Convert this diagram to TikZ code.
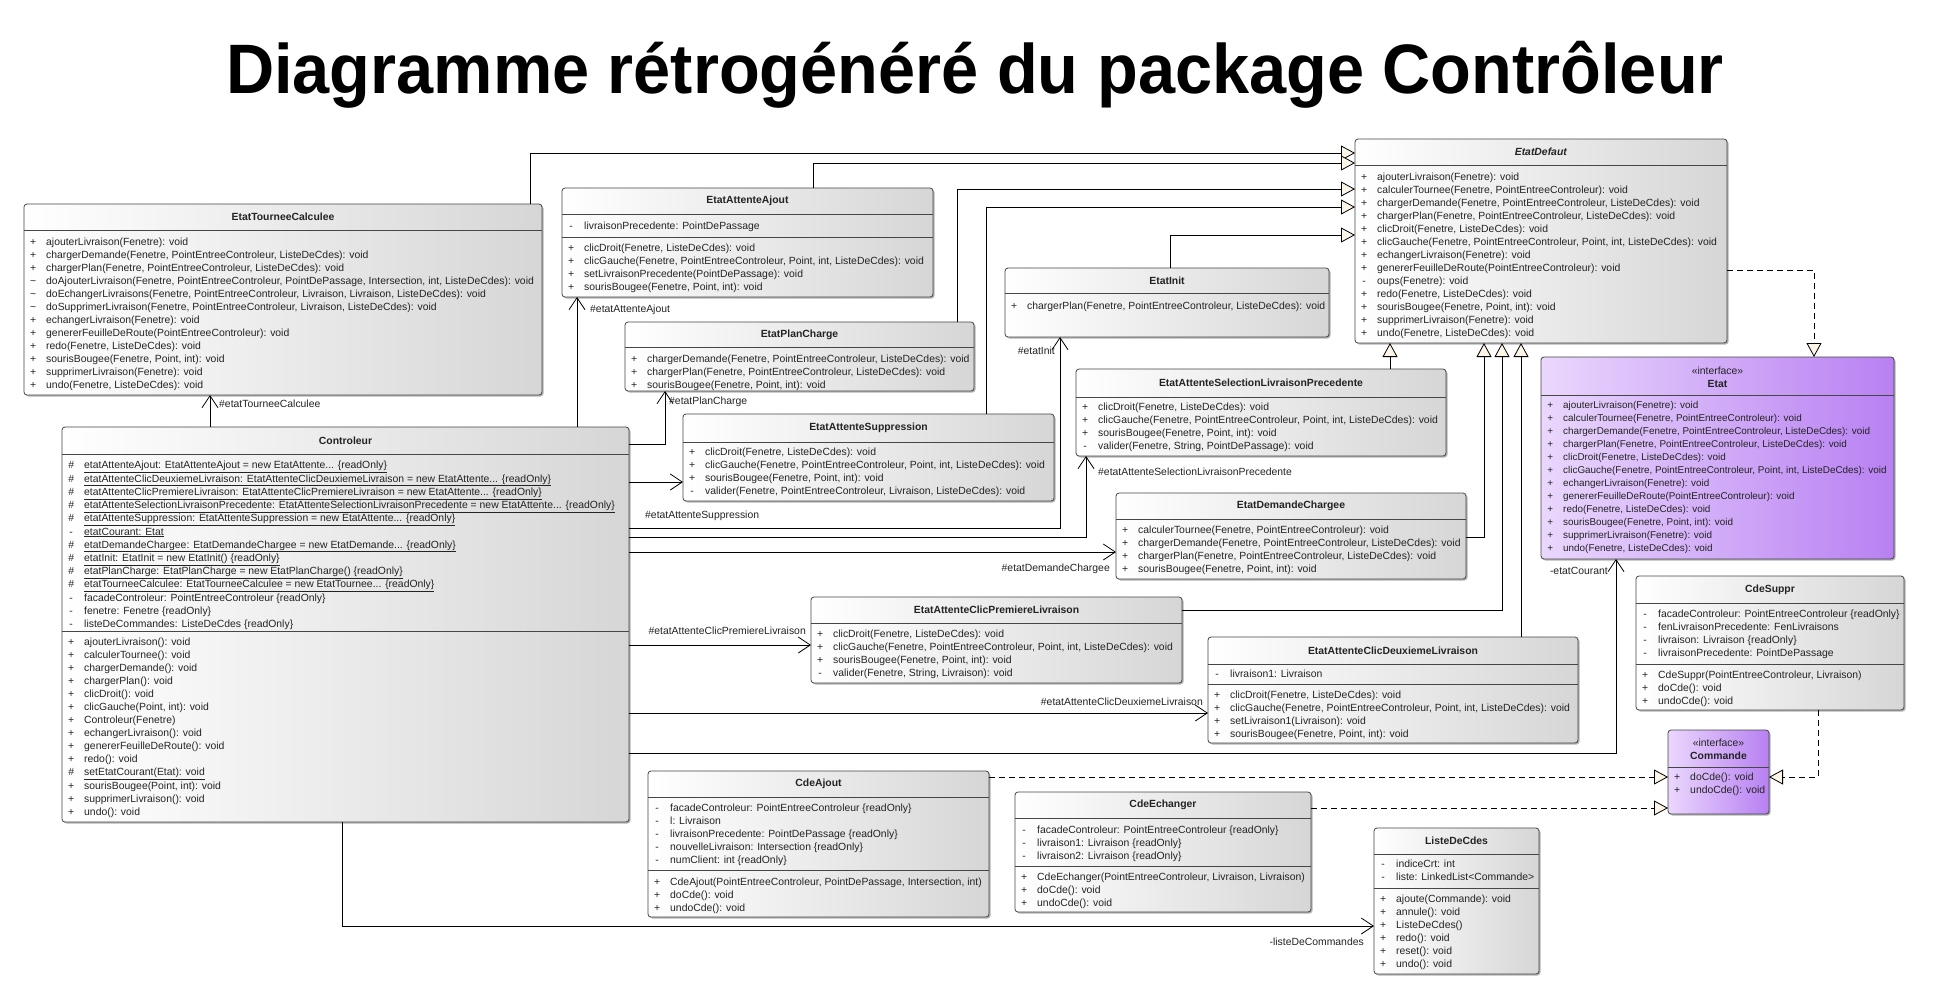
\documentclass[tikz,border=0pt]{standalone}
\usepackage{fontspec}
\setmainfont{Liberation Sans}
\usepackage{graphicx}
\usetikzlibrary{arrows.meta,calc,shadows}

\definecolor{boxgray}{RGB}{214,214,214}
\definecolor{lavA}{RGB}{234,215,253}
\definecolor{lavB}{RGB}{184,128,242}
\definecolor{cream}{RGB}{251,246,232}
\definecolor{edge}{RGB}{70,70,70}
\definecolor{txt}{RGB}{35,35,35}

\newcommand\umlfont{\fontsize{10.4}{13}\selectfont}
\newcommand\umlfontsmall{\fontsize{9.9}{13}\selectfont}
\newcommand\vis[1]{\makebox[18pt][l]{\makebox[10pt][c]{#1}}}
\newcommand\vPub{\vis{+}}
\newcommand\vPriv{\vis{-}}
\newcommand\vProt{\vis{\#}}
\newcommand\vPkg{\vis{\textasciitilde}}

\tikzset{
  umlc/.style={draw=edge, line width=0.8pt, rounded corners=3pt, left color=white, right color=boxgray,
    inner sep=0pt, outer sep=0pt, drop shadow={shadow xshift=1.5pt, shadow yshift=-1.5pt, opacity=0.3, fill=black}},
  umli/.style={umlc, left color=lavA, right color=lavB},
  sepline/.style={draw=edge, line width=0.8pt},
  membstyle/.style={inner sep=0pt, font=\umlfont, text=txt},
  ctitlestyle/.style={inner sep=0pt, font=\umlfont\bfseries, text=txt, align=center},
  conn/.style={draw=black, line width=0.8pt},
  assoc/.style={conn, -{Straight Barb[length=12pt,width=16pt]}},
  gen/.style={conn, -{Triangle[length=14pt,width=15pt,fill=cream]}},
  real/.style={gen, dash pattern=on 6pt off 4pt},
  lbl/.style={inner sep=0pt, font=\umlfont, text=txt, text height=7.4pt, text depth=0pt},
}

\newcommand\umlbox[6]{\node[#6, anchor=north west, minimum width={#4-#2}, minimum height={#5-#3}] (#1) at (#2,#3) {};}
\newcommand\ctitle[3]{\node[ctitlestyle] (#1-t) at ($(#1.north)+(0,#2)$) {#3};}
\newcommand\csep[2]{\draw[sepline] ($(#1.north west)+(0,#2)$) -- ($(#1.north east)+(0,#2)$);}
\newcommand\cmembers[3]{\node[membstyle, anchor=north west] (#1-m#2) at ($(#1.north west)+(4,#2-5.5)$) {\begin{tabular}{@{}l@{}}#3\end{tabular}};}

\begin{document}
\begin{tikzpicture}[x=1pt,y=-1pt]
\fill[white] (0,0) rectangle (1939,997);
\useasboundingbox (0,0) rectangle (1939,997);

% title
\node[anchor=base, inner sep=0pt, font=\fontsize{70}{80}\selectfont\bfseries] (title) at (975,93)
  {\scalebox{0.953}[1]{Diagramme rétrogénéré du package Contrôleur}};

% ---------- EtatTourneeCalculee
\umlbox{etc}{24}{204}{542}{395}{umlc}
\ctitle{etc}{13}{EtatTourneeCalculee}
\csep{etc}{26}
\cmembers{etc}{38}{\vPub ajouterLivraison(Fenetre): void\\
\vPub chargerDemande(Fenetre, PointEntreeControleur, ListeDeCdes): void\\
\vPub chargerPlan(Fenetre, PointEntreeControleur, ListeDeCdes): void\\
\vPkg doAjouterLivraison(Fenetre, PointEntreeControleur, PointDePassage, Intersection, int, ListeDeCdes): void\\
\vPkg doEchangerLivraisons(Fenetre, PointEntreeControleur, Livraison, Livraison, ListeDeCdes): void\\
\vPkg doSupprimerLivraison(Fenetre, PointEntreeControleur, Livraison, ListeDeCdes): void\\
\vPub echangerLivraison(Fenetre): void\\
\vPub genererFeuilleDeRoute(PointEntreeControleur): void\\
\vPub redo(Fenetre, ListeDeCdes): void\\
\vPub sourisBougee(Fenetre, Point, int): void\\
\vPub supprimerLivraison(Fenetre): void\\
\vPub undo(Fenetre, ListeDeCdes): void}

% ---------- Controleur
\umlbox{ctrl}{62}{427}{629}{822}{umlc}
\ctitle{ctrl}{13.5}{Controleur}
\csep{ctrl}{27}
\cmembers{ctrl}{38}{\vProt\underline{etatAttenteAjout: EtatAttenteAjout = new EtatAttente... \{readOnly\}}\\
\vProt\underline{etatAttenteClicDeuxiemeLivraison: EtatAttenteClicDeuxiemeLivraison = new EtatAttente... \{readOnly\}}\\
\vProt\underline{etatAttenteClicPremiereLivraison: EtatAttenteClicPremiereLivraison = new EtatAttente... \{readOnly\}}\\
\vProt\underline{etatAttenteSelectionLivraisonPrecedente: EtatAttenteSelectionLivraisonPrecedente = new EtatAttente... \{readOnly\}}\\
\vProt\underline{etatAttenteSuppression: EtatAttenteSuppression = new EtatAttente... \{readOnly\}}\\
\vPriv\underline{etatCourant: Etat}\\
\vProt\underline{etatDemandeChargee: EtatDemandeChargee = new EtatDemande... \{readOnly\}}\\
\vProt\underline{etatInit: EtatInit = new EtatInit() \{readOnly\}}\\
\vProt\underline{etatPlanCharge: EtatPlanCharge = new EtatPlanCharge() \{readOnly\}}\\
\vProt\underline{etatTourneeCalculee: EtatTourneeCalculee = new EtatTournee... \{readOnly\}}\\
\vPriv facadeControleur: PointEntreeControleur \{readOnly\}\\
\vPriv fenetre: Fenetre \{readOnly\}\\
\vPriv listeDeCommandes: ListeDeCdes \{readOnly\}}
\csep{ctrl}{204}
\cmembers{ctrl}{215}{\vPub ajouterLivraison(): void\\
\vPub calculerTournee(): void\\
\vPub chargerDemande(): void\\
\vPub chargerPlan(): void\\
\vPub clicDroit(): void\\
\vPub clicGauche(Point, int): void\\
\vPub Controleur(Fenetre)\\
\vPub echangerLivraison(): void\\
\vPub genererFeuilleDeRoute(): void\\
\vPub redo(): void\\
\vProt\underline{setEtatCourant(Etat): void}\\
\vPub sourisBougee(Point, int): void\\
\vPub supprimerLivraison(): void\\
\vPub undo(): void}

% ---------- EtatAttenteAjout
\umlbox{eaa}{562}{188}{933}{297}{umlc}
\ctitle{eaa}{13}{EtatAttenteAjout}
\csep{eaa}{26}
\cmembers{eaa}{38}{\vPriv livraisonPrecedente: PointDePassage}
\csep{eaa}{49}
\cmembers{eaa}{60}{\vPub clicDroit(Fenetre, ListeDeCdes): void\\
\vPub clicGauche(Fenetre, PointEntreeControleur, Point, int, ListeDeCdes): void\\
\vPub setLivraisonPrecedente(PointDePassage): void\\
\vPub sourisBougee(Fenetre, Point, int): void}

% ---------- EtatPlanCharge
\umlbox{epc}{625}{322}{974}{391}{umlc}
\ctitle{epc}{12.5}{EtatPlanCharge}
\csep{epc}{25}
\cmembers{epc}{37}{\vPub chargerDemande(Fenetre, PointEntreeControleur, ListeDeCdes): void\\
\vPub chargerPlan(Fenetre, PointEntreeControleur, ListeDeCdes): void\\
\vPub sourisBougee(Fenetre, Point, int): void}

% ---------- EtatAttenteSuppression
\umlbox{eas}{683}{414}{1054}{501}{umlc}
\ctitle{eas}{14}{EtatAttenteSuppression}
\csep{eas}{28}
\cmembers{eas}{38}{\vPub clicDroit(Fenetre, ListeDeCdes): void\\
\vPub clicGauche(Fenetre, PointEntreeControleur, Point, int, ListeDeCdes): void\\
\vPub sourisBougee(Fenetre, Point, int): void\\
\vPriv valider(Fenetre, PointEntreeControleur, Livraison, ListeDeCdes): void}

% ---------- EtatDefaut
\umlbox{ed}{1355}{139}{1727}{343}{umlc}
\ctitle{ed}{13}{\textit{EtatDefaut}}
\csep{ed}{26}
\cmembers{ed}{38}{\vPub ajouterLivraison(Fenetre): void\\
\vPub calculerTournee(Fenetre, PointEntreeControleur): void\\
\vPub chargerDemande(Fenetre, PointEntreeControleur, ListeDeCdes): void\\
\vPub chargerPlan(Fenetre, PointEntreeControleur, ListeDeCdes): void\\
\vPub clicDroit(Fenetre, ListeDeCdes): void\\
\vPub clicGauche(Fenetre, PointEntreeControleur, Point, int, ListeDeCdes): void\\
\vPub echangerLivraison(Fenetre): void\\
\vPub genererFeuilleDeRoute(PointEntreeControleur): void\\
\vPriv oups(Fenetre): void\\
\vPub redo(Fenetre, ListeDeCdes): void\\
\vPub sourisBougee(Fenetre, Point, int): void\\
\vPub supprimerLivraison(Fenetre): void\\
\vPub undo(Fenetre, ListeDeCdes): void}

% ---------- EtatInit
\umlbox{ei}{1005}{268}{1329}{337}{umlc}
\ctitle{ei}{12.5}{EtatInit}
\csep{ei}{25}
\cmembers{ei}{38}{\vPub chargerPlan(Fenetre, PointEntreeControleur, ListeDeCdes): void}

% ---------- EtatAttenteSelectionLivraisonPrecedente
\umlbox{easl}{1076}{369}{1446}{456}{umlc}
\ctitle{easl}{14}{EtatAttenteSelectionLivraisonPrecedente}
\csep{easl}{28}
\cmembers{easl}{38}{\vPub clicDroit(Fenetre, ListeDeCdes): void\\
\vPub clicGauche(Fenetre, PointEntreeControleur, Point, int, ListeDeCdes): void\\
\vPub sourisBougee(Fenetre, Point, int): void\\
\vPriv valider(Fenetre, String, PointDePassage): void}

% ---------- EtatDemandeChargee
\umlbox{edc}{1116}{493}{1466}{579}{umlc}
\ctitle{edc}{13}{EtatDemandeChargee}
\csep{edc}{26}
\cmembers{edc}{37}{\vPub calculerTournee(Fenetre, PointEntreeControleur): void\\
\vPub chargerDemande(Fenetre, PointEntreeControleur, ListeDeCdes): void\\
\vPub chargerPlan(Fenetre, PointEntreeControleur, ListeDeCdes): void\\
\vPub sourisBougee(Fenetre, Point, int): void}

% ---------- Etat (interface)
\umlbox{etat}{1541}{357}{1894}{559}{umli}
\ctitle{etat}{20.5}{{\mdseries «interface»}\\Etat}
\csep{etat}{38}
\node[membstyle, font=\umlfontsmall, anchor=north west] (etat-m48) at ($(etat.north west)+(4,48-5.5)$) {\begin{tabular}{@{}l@{}}\vPub ajouterLivraison(Fenetre): void\\
\vPub calculerTournee(Fenetre, PointEntreeControleur): void\\
\vPub chargerDemande(Fenetre, PointEntreeControleur, ListeDeCdes): void\\
\vPub chargerPlan(Fenetre, PointEntreeControleur, ListeDeCdes): void\\
\vPub clicDroit(Fenetre, ListeDeCdes): void\\
\vPub clicGauche(Fenetre, PointEntreeControleur, Point, int, ListeDeCdes): void\\
\vPub echangerLivraison(Fenetre): void\\
\vPub genererFeuilleDeRoute(PointEntreeControleur): void\\
\vPub redo(Fenetre, ListeDeCdes): void\\
\vPub sourisBougee(Fenetre, Point, int): void\\
\vPub supprimerLivraison(Fenetre): void\\
\vPub undo(Fenetre, ListeDeCdes): void\end{tabular}};

% ---------- CdeSuppr
\umlbox{cs}{1636}{576}{1904}{710}{umlc}
\ctitle{cs}{13.5}{CdeSuppr}
\csep{cs}{27}
\cmembers{cs}{38}{\vPriv facadeControleur: PointEntreeControleur \{readOnly\}\\
\vPriv fenLivraisonPrecedente: FenLivraisons\\
\vPriv livraison: Livraison \{readOnly\}\\
\vPriv livraisonPrecedente: PointDePassage}
\csep{cs}{88}
\cmembers{cs}{99}{\vPub CdeSuppr(PointEntreeControleur, Livraison)\\
\vPub doCde(): void\\
\vPub undoCde(): void}

% ---------- Commande (interface)
\umlbox{cmd}{1668}{730}{1769}{814}{umli}
\ctitle{cmd}{19.5}{{\mdseries «interface»}\\Commande}
\csep{cmd}{37}
\cmembers{cmd}{47}{\vPub doCde(): void\\
\vPub undoCde(): void}

% ---------- CdeAjout
\umlbox{ca}{648}{771}{989}{917}{umlc}
\ctitle{ca}{13}{CdeAjout}
\csep{ca}{26}
\cmembers{ca}{37}{\vPriv facadeControleur: PointEntreeControleur \{readOnly\}\\
\vPriv l: Livraison\\
\vPriv livraisonPrecedente: PointDePassage \{readOnly\}\\
\vPriv nouvelleLivraison: Intersection \{readOnly\}\\
\vPriv numClient: int \{readOnly\}}
\csep{ca}{99}
\cmembers{ca}{111}{\vPub CdeAjout(PointEntreeControleur, PointDePassage, Intersection, int)\\
\vPub doCde(): void\\
\vPub undoCde(): void}

% ---------- CdeEchanger
\umlbox{ce}{1015}{792}{1311}{912}{umlc}
\ctitle{ce}{13}{CdeEchanger}
\csep{ce}{26}
\cmembers{ce}{38}{\vPriv facadeControleur: PointEntreeControleur \{readOnly\}\\
\vPriv livraison1: Livraison \{readOnly\}\\
\vPriv livraison2: Livraison \{readOnly\}}
\csep{ce}{74}
\cmembers{ce}{85}{\vPub CdeEchanger(PointEntreeControleur, Livraison, Livraison)\\
\vPub doCde(): void\\
\vPub undoCde(): void}

% ---------- ListeDeCdes
\umlbox{ldc}{1374}{828}{1539}{974}{umlc}
\ctitle{ldc}{13}{ListeDeCdes}
\csep{ldc}{26}
\cmembers{ldc}{36}{\vPriv indiceCrt: int\\
\vPriv liste: LinkedList<Commande>}
\csep{ldc}{60}
\cmembers{ldc}{71}{\vPub ajoute(Commande): void\\
\vPub annule(): void\\
\vPub ListeDeCdes()\\
\vPub redo(): void\\
\vPub reset(): void\\
\vPub undo(): void}

% ---------- EtatAttenteClicPremiereLivraison
\umlbox{ecp}{811}{597}{1182}{683}{umlc}
\ctitle{ecp}{13}{EtatAttenteClicPremiereLivraison}
\csep{ecp}{26}
\cmembers{ecp}{37}{\vPub clicDroit(Fenetre, ListeDeCdes): void\\
\vPub clicGauche(Fenetre, PointEntreeControleur, Point, int, ListeDeCdes): void\\
\vPub sourisBougee(Fenetre, Point, int): void\\
\vPriv valider(Fenetre, String, Livraison): void}

% ---------- EtatAttenteClicDeuxiemeLivraison
\umlbox{ecd}{1208}{637}{1578}{743}{umlc}
\ctitle{ecd}{13.5}{EtatAttenteClicDeuxiemeLivraison}
\csep{ecd}{27}
\cmembers{ecd}{37}{\vPriv livraison1: Livraison}
\csep{ecd}{47}
\cmembers{ecd}{58}{\vPub clicDroit(Fenetre, ListeDeCdes): void\\
\vPub clicGauche(Fenetre, PointEntreeControleur, Point, int, ListeDeCdes): void\\
\vPub setLivraison1(Livraison): void\\
\vPub sourisBougee(Fenetre, Point, int): void}

% ================= connectors
% associations
\draw[assoc] ($(ctrl.north west)+(148,0)$) -- ($(etc.south west)+(186,0)$);
\draw[assoc] ($(ctrl.north west)+(515,0)$) -- ($(eaa.south west)+(15,0)$);
\draw[assoc] ($(ctrl.north east)+(0,17)$) -| ($(epc.south west)+(40,0)$);
\draw[assoc] ($(ctrl.north east)+(0,55)$) -- ($(eas.north west)+(0,68)$);
\draw[assoc] ($(ctrl.north east)+(0,101)$) -| ($(ei.south west)+(55,0)$);
\draw[assoc] ($(ctrl.north east)+(0,110)$) -| ($(easl.south west)+(10,0)$);
\draw[assoc] ($(ctrl.north east)+(0,125)$) -- ($(edc.north west)+(0,59)$);
\draw[assoc] ($(ctrl.north east)+(0,218)$) -- ($(ecp.north west)+(0,48)$);
\draw[assoc] ($(ctrl.north east)+(0,286)$) -- ($(ecd.north west)+(0,76)$);
\draw[assoc] ($(ctrl.north east)+(0,326)$) -| ($(etat.south west)+(75,0)$);
\draw[assoc] ($(ctrl.south west)+(280,0)$) |- ($(ldc.north west)+(0,98)$);

% generalizations
\draw[gen] ($(etc.north west)+(506,0)$) |- ($(ed.north west)+(0,14)$);
\draw[gen] ($(eaa.north west)+(251,0)$) |- ($(ed.north west)+(0,24)$);
\draw[gen] ($(epc.north west)+(332,0)$) |- ($(ed.north west)+(0,50)$);
\draw[gen] ($(eas.north west)+(303,0)$) |- ($(ed.north west)+(0,68)$);
\draw[gen] ($(ei.north west)+(165,0)$) |- ($(ed.north west)+(0,96)$);
\draw[gen] ($(easl.north west)+(314,0)$) -- ($(ed.south west)+(35,0)$);
\draw[gen] ($(edc.north east)+(0,44)$) -| ($(ed.south west)+(129,0)$);
\draw[gen] ($(ecp.north east)+(0,13)$) -| ($(ed.south west)+(147,0)$);
\draw[gen] ($(ecd.north west)+(313,0)$) -- ($(ed.south west)+(166,0)$);

% realizations
\draw[real] ($(ed.north east)+(0,131)$) -| ($(etat.north west)+(273,0)$);
\draw[real] ($(ca.north east)+(0,6)$) -- ($(cmd.north west)+(0,47)$);
\draw[real] ($(ce.north east)+(0,16)$) -- ($(cmd.north west)+(0,78)$);
\draw[real] ($(cs.south west)+(182,0)$) |- ($(cmd.north east)+(0,47)$);

% labels
\node[lbl, anchor=west] (l-etc) at (219,404) {\#etatTourneeCalculee};
\node[lbl, anchor=west] (l-eaa) at (590,309) {\#etatAttenteAjout};
\node[lbl, anchor=west] (l-epc) at (669,401) {\#etatPlanCharge};
\node[lbl, anchor=west] (l-eas) at (645,515) {\#etatAttenteSuppression};
\node[lbl, anchor=east] (l-ei) at (1055,351) {\#etatInit};
\node[lbl, anchor=west] (l-easl) at (1098,472) {\#etatAttenteSelectionLivraisonPrecedente};
\node[lbl, anchor=east] (l-edc) at (1110,568) {\#etatDemandeChargee};
\node[lbl, anchor=east] (l-ecp) at (806,631) {\#etatAttenteClicPremiereLivraison};
\node[lbl, anchor=east] (l-ecd) at (1203,702) {\#etatAttenteClicDeuxiemeLivraison};
\node[lbl, anchor=east] (l-etat) at (1608,571) {-etatCourant};
\node[lbl, anchor=east] (l-ldc) at (1364,942) {-listeDeCommandes};
\end{tikzpicture}
\end{document}
